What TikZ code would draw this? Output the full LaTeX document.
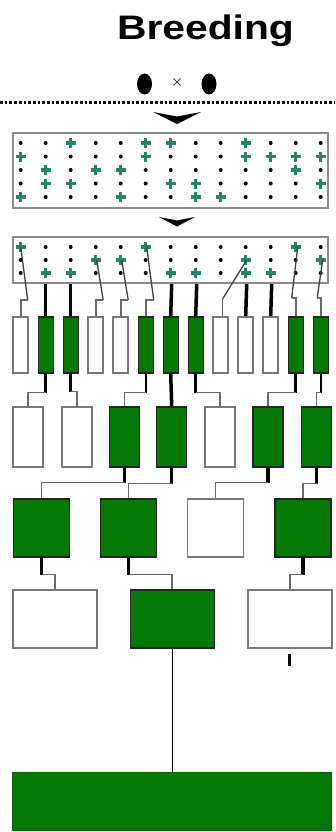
\documentclass[tikz,border=0pt]{standalone}
\usepackage{fontspec}
\setmainfont{Liberation Sans}
\definecolor{plantgreen}{RGB}{35,135,100}
\definecolor{boxgreen}{RGB}{5,120,5}
\definecolor{wborder}{RGB}{120,120,120}
\definecolor{lowgray}{RGB}{105,105,105}
\tikzset{
  gdot/.pic={\fill[black] (0,0) circle (2);},
  gplus/.pic={\draw[plantgreen, line width=3.4pt] (-5,0) -- (5,0) (0,-5) -- (0,5);},
}
\begin{document}
\begin{tikzpicture}[x=1pt,y=-1pt,
  gbox/.style={draw=black!85, line width=1.2pt, fill=boxgreen, inner sep=0pt},
  wbox/.style={draw=wborder, line width=1.8pt, fill=white, inner sep=0pt},
  tallbox/.style={minimum width=15pt, minimum height=56pt},
  midbox/.style={minimum width=30pt, minimum height=60pt},
  sqbox/.style={minimum width=56pt, minimum height=58pt},
  widebox/.style={minimum width=84pt, minimum height=58pt},
  gridbox/.style={draw=gray!90, line width=2.2pt, fill=white, inner sep=0pt},
  stubline/.style={black, line width=3.5pt},
  thinstub/.style={black, line width=1.6pt},
  selline/.style={black!75, line width=1.3pt},
  lowline/.style={lowgray, line width=1.7pt},
]
\useasboundingbox (0,0) rectangle (335,832);

% title and parents
\node[font=\bfseries\fontsize{34}{34}\selectfont, anchor=base, xscale=1.2, inner sep=0pt] (title) at (205.5,40) {Breeding};
\fill[black] (144.5,84) ellipse (7.5 and 10.5);
\fill[black] (209,84) ellipse (7.5 and 10.5);
\draw[black!75, line width=1pt] (173.5,78.5) -- (180.5,85.5) (173.5,85.5) -- (180.5,78.5);
\draw[black, line width=3pt, dash pattern=on 2.7pt off 2pt] (0,103) -- (335,103);
\fill[black] (153,112) -- (177,116.5) -- (201,112) -- (177,124) -- cycle;

% first field
\node[gridbox, minimum width=315pt, minimum height=75pt] (g1) at (170.5,170.5) {};
\foreach \v [count=\i] in {0,0,1,0,0,1,1,0,0,1,0,0,0}
  {\ifnum\v=1 \pic at ({20.7+25*(\i-1)},143) {gplus}; \else \pic at ({20.7+25*(\i-1)},143) {gdot}; \fi}
\foreach \v [count=\i] in {1,0,0,0,0,1,0,0,0,1,1,1,1}
  {\ifnum\v=1 \pic at ({20.7+25*(\i-1)},156.5) {gplus}; \else \pic at ({20.7+25*(\i-1)},156.5) {gdot}; \fi}
\foreach \v [count=\i] in {0,1,0,1,1,0,0,0,0,0,0,1,0}
  {\ifnum\v=1 \pic at ({20.7+25*(\i-1)},170) {gplus}; \else \pic at ({20.7+25*(\i-1)},170) {gdot}; \fi}
\foreach \v [count=\i] in {0,1,1,0,0,0,1,1,0,0,0,0,1}
  {\ifnum\v=1 \pic at ({20.7+25*(\i-1)},183.5) {gplus}; \else \pic at ({20.7+25*(\i-1)},183.5) {gdot}; \fi}
\foreach \v [count=\i] in {1,0,0,0,1,0,0,1,1,0,0,0,0}
  {\ifnum\v=1 \pic at ({20.7+25*(\i-1)},197) {gplus}; \else \pic at ({20.7+25*(\i-1)},197) {gdot}; \fi}

\fill[black] (159,217) -- (177,220.5) -- (195,217) -- (177,226.5) -- cycle;

% second field
\node[gridbox, minimum width=315pt, minimum height=46pt] (g2) at (170.5,260) {};
\foreach \v [count=\i] in {1,0,0,0,0,1,0,0,0,0,0,1,0}
  {\ifnum\v=1 \pic at ({20.7+25*(\i-1)},247) {gplus}; \else \pic at ({20.7+25*(\i-1)},247) {gdot}; \fi}
\foreach \v [count=\i] in {0,0,0,1,1,0,0,0,0,1,0,0,1}
  {\ifnum\v=1 \pic at ({20.7+25*(\i-1)},260) {gplus}; \else \pic at ({20.7+25*(\i-1)},260) {gdot}; \fi}
\foreach \v [count=\i] in {0,1,1,0,0,0,1,1,0,1,1,0,0}
  {\ifnum\v=1 \pic at ({20.7+25*(\i-1)},273) {gplus}; \else \pic at ({20.7+25*(\i-1)},273) {gdot}; \fi}

% selected plants
\coordinate (p1) at (20.7,247);
\coordinate (p2) at (45.7,273);
\coordinate (p3) at (70.7,273);
\coordinate (p4) at (96.7,260);
\coordinate (p5) at (121.7,260);
\coordinate (p6) at (146.7,247);
\coordinate (p7) at (171.7,273);
\coordinate (p8) at (196.7,273);
\coordinate (p9) at (246.7,260);
\coordinate (p10) at (246.7,273);
\coordinate (p11) at (271.7,273);
\coordinate (p12) at (297.7,247);
\coordinate (p13) at (322.7,260);

% row 1: tall boxes
\foreach \i/\s in {1/wbox,2/gbox,3/gbox,4/wbox,5/wbox,6/gbox,7/gbox,8/gbox,9/wbox,10/wbox,11/wbox,12/gbox,13/gbox}
  \node[\s, tallbox] (t\i) at ({20.7+25*(\i-1)},345) {};

% row 2
\foreach \i/\x/\s in {1/28/wbox,2/77/wbox,3/124.5/gbox,4/171.7/gbox,5/220/wbox,6/268/gbox,7/316.5/gbox}
  \node[\s, midbox] (a\i) at (\x,437) {};

% row 3
\foreach \i/\x/\s in {1/41.5/gbox,2/128.5/gbox,3/215.5/wbox,4/303/gbox}
  \node[\s, sqbox] (b\i) at (\x,528) {};

% row 4
\foreach \i/\x/\s in {1/55/wbox,2/172.2/gbox,3/289.7/wbox}
  \node[\s, widebox] (c\i) at (\x,619) {};

% final
\node[fill=boxgreen, draw=boxgreen!80!black, line width=0.8pt, minimum width=319pt, minimum height=58pt, inner sep=0pt] (d) at (172.2,801) {};

% field -> row 1
\foreach \i in {2,3,7,8,10,11}
  \draw[stubline] (p\i |- g2.south) -- (t\i.north);
\coordinate (j1) at (27.7,300);
\coordinate (j4) at (103.2,300);
\coordinate (j5) at (128.2,300);
\coordinate (j6) at (153.7,300);
\coordinate (j9) at (222.5,299);
\coordinate (j12) at (291.7,298);
\coordinate (j13) at (317.2,298);
\foreach \i in {1,4,5,6,12,13} {
  \draw[selline] (p\i) -- (j\i);
  \draw[lowline] (j\i) -| (t\i.north);
}
\draw[selline] (p9) -- (j9);
\draw[lowline] (j9) -- (j9 |- t9.north);

% row 1 -> row 2
\draw[stubline] (t2.south) -- ++(0,19) coordinate (k2);
\draw[lowline] (k2) -| (a1.north);
\draw[stubline] (t3.south) -- ++(0,18) coordinate (k3);
\draw[lowline] (k3) -| (a2.north);
\draw[thinstub] (t6.south) -- ++(0,19) coordinate (k6);
\draw[lowline] (k6) -| (a3.north);
\draw[stubline] (t7.south) -- (a4.north);
\draw[stubline] (t8.south) -- ++(0,19) coordinate (k8);
\draw[lowline] (k8) -| (a5.north);
\draw[stubline] (t12.south) -- ++(0,19) coordinate (k12);
\draw[lowline] (k12) -| (a6.north);
\draw[thinstub] (t13.south) -- ++(0,19) coordinate (k13);
\draw[lowline] (k13) -| (a7.north);

% row 2 -> row 3
\draw[stubline] (a3.south) -- ++(0,15) coordinate (m3);
\draw[lowline] (m3) -| (b1.north);
\draw[stubline] (a4.south) -- ++(0,16) coordinate (m4);
\draw[lowline] (m4) -| (b2.north);
\draw[stubline] (a6.south) -- ++(0,15) coordinate (m6);
\draw[lowline] (m6) -| (b3.north);
\draw[stubline] (a7.south) -- ++(0,16) coordinate (m7);
\draw[lowline] (m7) -| (b4.north);

% row 3 -> row 4
\draw[stubline] (b1.south) -- ++(0,17) coordinate (n1);
\draw[lowline] (n1) -| (c1.north);
\draw[stubline] (b2.south) -- ++(0,17) coordinate (n2);
\draw[lowline] (n2) -| (c2.north);
\draw[stubline] (b4.south) -- ++(0,17) coordinate (n4);
\draw[lowline] (n4) -| (c3.north);

% row 4 -> final
\draw[black, line width=1.3pt] (c2.south) -- (d.north);
\draw[stubline] ([yshift=-5pt]c3.south) -- ++(0,12) coordinate (s3);
\end{tikzpicture}
\end{document}
